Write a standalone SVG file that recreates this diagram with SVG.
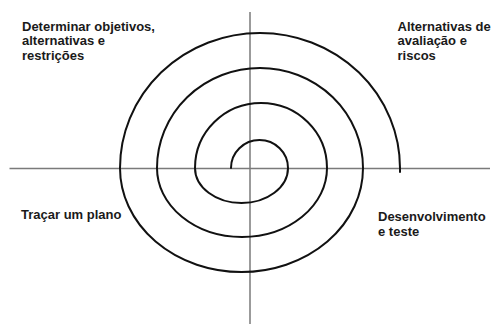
<svg xmlns="http://www.w3.org/2000/svg" width="494" height="324" viewBox="0 0 494 324">
  <style>
    .axis { stroke: #7a7a7a; stroke-width: 1.5; fill: none; }
    .spiral { stroke: #111; stroke-width: 2; fill: none; stroke-linecap: round; }
    .lbl { font-family: "Liberation Sans", Arial, sans-serif; font-size: 13px; font-weight: bold; fill: #1a1a1a; }
  </style>
  <rect width="494" height="324" fill="#ffffff"/>
  <g id="axes">
    <line class="axis" x1="9.5" y1="168.5" x2="490" y2="168.5"/>
    <line class="axis" x1="250" y1="12" x2="250" y2="324"/>
  </g>
  <g id="spiral">
    <path class="spiral" d="M231,168 A28.5,28 0 0 1 288,168 A46.5,35 0 0 1 195,168 A66,65 0 0 1 327,168 A85,69 0 0 1 157,168 A103,100 0 0 1 363,168 A121.5,104 0 0 1 120,168 A140,135 0 0 1 400,168 L400,172"/>
  </g>
  <g id="q1">
    <text class="lbl" x="22" y="30.5">Determinar objetivos,</text>
    <text class="lbl" x="22" y="45">alternativas e</text>
    <text class="lbl" x="22" y="59.5">restrições</text>
  </g>
  <g id="q2">
    <text class="lbl" x="397.5" y="30.5">Alternativas de</text>
    <text class="lbl" x="397.5" y="45">avaliação e</text>
    <text class="lbl" x="397.5" y="59.5">riscos</text>
  </g>
  <g id="q3">
    <text class="lbl" x="21" y="219">Traçar um plano</text>
  </g>
  <g id="q4">
    <text class="lbl" x="378" y="221">Desenvolvimento</text>
    <text class="lbl" x="378" y="235.5">e teste</text>
  </g>
</svg>
